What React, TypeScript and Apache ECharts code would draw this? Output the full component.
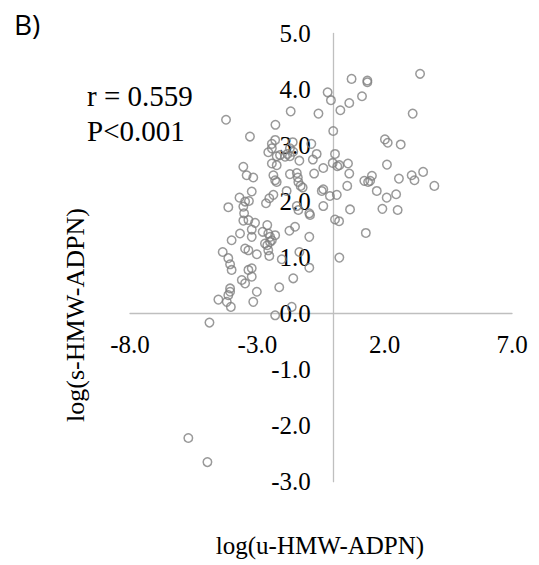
import React, { useEffect, useRef } from "react";
import * as echarts from "echarts";

const xTicks = [-8, -3, 2, 7];
const yTicks = [-3, -2, -1, 0, 1, 2, 3, 4, 5];

const xValues = [
  0.70, 1.32, 1.32, 3.39, -0.24, -0.11, 0.26, 0.61, 1.11, -0.60,
  -1.69, 3.10, -2.29, -0.02, 2.01, 2.12, 2.63, -0.88, -1.61, -2.30,
  -2.43, -0.67, 0.05, -0.82, -1.35, -1.72, -1.82, -2.24, -2.43, -2.24,
  -0.04, 0.14, 0.22, 0.56, -0.41, 2.09, 0.61, -0.77, -1.72, -1.45,
  -1.41, -2.37, -2.30, -2.24, 1.50, 1.20, 1.35, 1.43, 3.06, 3.17,
  3.51, 2.56, 3.95, 0.53, -0.41, -0.47, -1.30, -1.22, -1.85, 1.69,
  2.45, 2.08, -0.15, 0.12, -2.37, 0.64, 1.91, 2.51, 0.05, 0.21,
  1.26, -4.23, -3.29, -2.57, -2.11, -3.55, -3.42, -3.16, -1.39, -3.22,
  -3.70, -3.48, -3.33, -4.14, -3.55, -3.52, -3.55, -2.66, -2.53, -1.45,
  -1.39, -0.96, -0.93, -0.41, -3.35, -3.09, -2.61, -2.79, -2.57, -2.30,
  -2.50, -3.22, -3.68, -4.01, -3.22, -2.70, -2.61, -2.50, -2.43, -2.57,
  -2.53, -3.48, -3.35, -3.02, -4.36, -4.14, -4.07, -4.01, -3.35, -3.22,
  -3.22, -3.61, -3.48, -4.07, -4.07, -4.14, -4.53, -4.20, -4.04, -3.02,
  -3.16, -2.14, -1.59, -0.96, -1.35, -2.04, -1.74, -1.52, -0.96, 0.22,
  -2.30, -1.65, -4.88, -5.71, -4.96, -1.72, -1.59, -1.91, -2.43,
];

const yValues = [
  4.19, 4.16, 4.13, 4.28, 3.95, 3.81, 3.63, 3.76, 3.88, 3.57,
  3.61, 3.57, 3.37, 3.26, 3.11, 3.05, 3.02, 3.03, 3.06, 3.10,
  3.03, 2.85, 2.85, 2.75, 2.73, 2.81, 2.85, 2.81, 2.68, 2.65,
  2.69, 2.63, 2.65, 2.68, 2.60, 2.66, 2.50, 2.50, 2.49, 2.51,
  2.43, 2.47, 2.38, 2.35, 2.46, 2.37, 2.35, 2.37, 2.47, 2.38,
  2.53, 2.41, 2.28, 2.28, 2.22, 2.19, 2.28, 2.25, 2.19, 2.19,
  2.13, 2.07, 2.10, 2.12, 2.12, 1.86, 1.87, 1.85, 1.68, 1.65,
  1.44, 3.46, 3.16, 2.88, 2.83, 2.62, 2.47, 2.43, 2.35, 2.18,
  2.07, 2.00, 2.01, 1.90, 1.91, 1.79, 1.66, 1.97, 2.06, 1.92,
  1.85, 1.79, 1.76, 1.92, 1.67, 1.62, 1.58, 1.46, 1.43, 1.40,
  1.37, 1.50, 1.43, 1.31, 1.37, 1.25, 1.22, 1.28, 1.31, 1.13,
  1.03, 1.16, 1.13, 1.06, 1.10, 0.99, 0.88, 0.78, 0.78, 0.81,
  0.66, 0.60, 0.54, 0.45, 0.39, 0.33, 0.25, 0.21, 0.12, 0.39,
  0.21, 0.47, 0.63, 0.82, 1.10, 0.97, 1.48, 1.55, 1.37, 1.00,
  -0.03, 0.12, -0.16, -2.22, -2.65, 2.95, 2.89, 2.80, 2.95,
];

const statLines = ["r = 0.559", "P<0.001"];
const panelLabel = "B)";
const xTitle = "log(u-HMW-ADPN)";
const yTitle = "log(s-HMW-ADPN)";

const GRID = { left: 130, right: 27, top: 33.5, bottom: 83.3 };
const W = 539;
const H = 565;

export default function App() {
  const ref = useRef<HTMLDivElement>(null);
  useEffect(() => {
    if (!ref.current) return;
    const chart = echarts.init(ref.current, null, { renderer: "svg" });
    const data = xValues.map((x, i) => [x, yValues[i]]);
    const serif = "'Liberation Serif', 'Times New Roman', serif";
    const lineStyle = { color: "#bfbfbf", width: 1.3 };
    const labelStyle = {
      show: true,
      color: "#000",
      fontFamily: serif,
      fontSize: 25,
      showMinLabel: true,
      showMaxLabel: true,
    };
    chart.setOption({
      animation: false,
      backgroundColor: "#ffffff",
      textStyle: { fontFamily: serif },
      grid: { ...GRID, containLabel: false },
      xAxis: {
        type: "value",
        min: xTicks[0],
        max: xTicks[xTicks.length - 1],
        interval: 1,
        position: "bottom",
        offset: 0,
        axisLine: { show: true, onZero: false, lineStyle },
        axisTick: { show: false },
        splitLine: { show: false },
        axisLabel: {
          ...labelStyle,
          margin: 18,
          formatter: (v: number) => (xTicks.indexOf(Math.round(v)) >= 0 ? v.toFixed(1) : ""),
        },
      },
      yAxis: {
        type: "value",
        min: yTicks[0],
        max: yTicks[yTicks.length - 1],
        interval: 1,
        position: "left",
        offset: 0,
        axisLine: { show: true, onZero: false, lineStyle },
        axisTick: { show: false },
        splitLine: { show: false },
        axisLabel: {
          ...labelStyle,
          margin: 23,
          formatter: (v: number) => v.toFixed(1),
        },
      },
      series: [
        {
          type: "scatter",
          data,
          symbol: "circle",
          symbolSize: 8.5,
          itemStyle: { color: "rgba(255,255,255,0)", borderColor: "#808080", borderWidth: 1.5 },
          z: 1,
        },
      ],
      graphic: [
        {
          type: "text",
          left: 14,
          top: 10,
          style: { text: panelLabel, font: "28px 'Open Sans', 'Noto Sans', sans-serif", fill: "#000" },
        },
        {
          type: "text",
          left: 87,
          top: 78,
          style: {
            text: statLines.join("\n"),
            font: "29px " + serif,
            lineHeight: 35,
            fill: "#000",
          },
        },
        {
          type: "text",
          x: 320,
          y: 545,
          style: {
            text: xTitle,
            font: "25px " + serif,
            fill: "#000",
            align: "center",
            verticalAlign: "middle",
          },
        },
        {
          type: "text",
          x: 75,
          y: 315,
          rotation: Math.PI / 2,
          style: {
            text: yTitle,
            font: "26px " + serif,
            fill: "#000",
            align: "center",
            verticalAlign: "middle",
          },
        },
      ],
    });
    // Move the axes (line + labels) to cross at the data origin, using the chart's own scales.
    const x0 = chart.convertToPixel({ xAxisIndex: 0 }, 0) as number;
    const y0 = chart.convertToPixel({ yAxisIndex: 0 }, 0) as number;
    const yOffset = -(x0 - GRID.left);
    const xOffset = -((H - GRID.bottom) - y0);
    chart.setOption({
      xAxis: { offset: xOffset },
      yAxis: { offset: yOffset },
    });
    return () => chart.dispose();
  }, []);
  return (
    <div
      ref={ref}
      style={{ position: "fixed", left: 0, top: 0, width: W, height: H, background: "#fff" }}
    />
  );
}
